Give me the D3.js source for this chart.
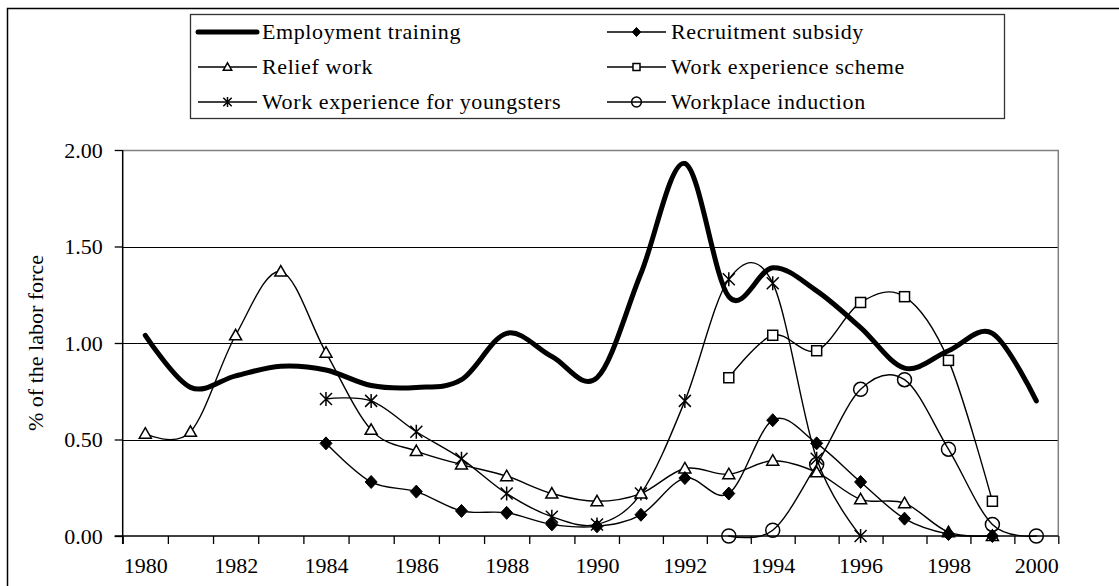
<!DOCTYPE html>
<html>
<head>
<meta charset="utf-8">
<script src="https://cdn.jsdelivr.net/npm/d3@7"></script>
<style>
  body { margin: 0; background: #fff; }
  svg text { font-family: "Liberation Serif", "Times New Roman", serif; fill: #000; }
</style>
</head>
<body>
<svg id="chart" width="1119" height="586"></svg>
<script>
const years = [1980, 1981, 1982, 1983, 1984, 1985, 1986, 1987, 1988, 1989, 1990,
               1991, 1992, 1993, 1994, 1995, 1996, 1997, 1998, 1999, 2000];
const yearLabels = [1980, 1982, 1984, 1986, 1988, 1990, 1992, 1994, 1996, 1998, 2000];
const yTicks = [0, 0.5, 1, 1.5, 2];

// % of the labor force, null = no programme that year
const employmentTraining = [1.04, 0.77, 0.83, 0.88, 0.86, 0.78, 0.77, 0.81, 1.05, 0.93, 0.82,
                            1.36, 1.93, 1.24, 1.39, 1.27, 1.08, 0.87, 0.96, 1.05, 0.70];
const recruitmentSubsidy = [null, null, null, null, 0.48, 0.28, 0.23, 0.13, 0.12, 0.06, 0.05,
                            0.11, 0.30, 0.22, 0.60, 0.48, 0.28, 0.09, 0.01, 0.00, null];
const reliefWork = [0.53, 0.54, 1.04, 1.37, 0.95, 0.55, 0.44, 0.37, 0.31, 0.22, 0.18,
                    0.22, 0.35, 0.32, 0.39, 0.33, 0.19, 0.17, 0.02, 0.00, null];
const workExperienceScheme = [null, null, null, null, null, null, null, null, null, null, null,
                              null, null, 0.82, 1.04, 0.96, 1.21, 1.24, 0.91, 0.18, null];
const workExperienceYoungsters = [null, null, null, null, 0.71, 0.70, 0.54, 0.40, 0.22, 0.10, 0.06,
                                  0.22, 0.70, 1.33, 1.31, 0.40, 0.00, null, null, null, null];
const workplaceInduction = [null, null, null, null, null, null, null, null, null, null, null,
                            null, null, 0.00, 0.03, 0.37, 0.76, 0.81, 0.45, 0.06, 0.00];

const series = [
  { name: 'Employment training', values: employmentTraining, marker: null, width: 5 },
  { name: 'Recruitment subsidy', values: recruitmentSubsidy, marker: 'diamond', width: 1.4 },
  { name: 'Relief work', values: reliefWork, marker: 'triangle', width: 1.4 },
  { name: 'Work experience scheme', values: workExperienceScheme, marker: 'square', width: 1.4 },
  { name: 'Work experience for youngsters', values: workExperienceYoungsters, marker: 'star', width: 1.4 },
  { name: 'Workplace induction', values: workplaceInduction, marker: 'circle', width: 1.4 }
];

const plot = { left: 122.7, right: 1058.3, top: 150, bottom: 536 };

const svg = d3.select('#chart');

// outer frame
svg.append('path')
  .attr('d', 'M7.5,586 V8.5 H1119')
  .attr('fill', 'none').attr('stroke', '#000').attr('stroke-width', 1.5);

// category axis: the scan is slightly uneven, so the centre year is pinned
const x = d3.scaleLinear()
  .domain([1979.5, 1990, 2000.5])
  .range([plot.left, 597, plot.right]);
const y = d3.scaleLinear().domain([0, 2]).range([plot.bottom, plot.top]);

// gridlines
svg.append('g').selectAll('line')
  .data(yTicks.filter(d => d > 0 && d < 2))
  .join('line')
  .attr('x1', plot.left).attr('x2', plot.right)
  .attr('y1', d => Math.round(y(d)) + 0.5).attr('y2', d => Math.round(y(d)) + 0.5)
  .attr('stroke', '#000').attr('stroke-width', 1);

// plot border (top/right grey)
svg.append('path')
  .attr('d', `M${plot.left},${plot.top + 0.5} H${plot.right} V${plot.bottom}`)
  .attr('fill', 'none').attr('stroke', '#808080').attr('stroke-width', 1.5);

// y axis
const yAxisG = svg.append('g')
  .attr('transform', `translate(${plot.left},0)`)
  .call(d3.axisLeft(y).tickValues(yTicks).tickSize(8).tickPadding(12)
    .tickFormat(d3.format('.2f')));
yAxisG.selectAll('line').attr('stroke', '#000').attr('stroke-width', 1.3);
yAxisG.select('.domain').attr('stroke', '#000').attr('stroke-width', 1.5)
  .attr('d', `M0,${plot.top}V${plot.bottom + 8}`);
yAxisG.selectAll('text').style('font-size', '22px').attr('font-family', null);

// x axis ticks between categories
const halfYears = years.map(d => d - 0.5).concat([2000.5]);
const xAxisG = svg.append('g')
  .attr('transform', `translate(0,${plot.bottom})`)
  .call(d3.axisBottom(x).tickValues(halfYears).tickSize(8).tickFormat(''));
xAxisG.selectAll('line').attr('stroke', '#000').attr('stroke-width', 1.3);
xAxisG.select('.domain').attr('stroke', '#000').attr('stroke-width', 1.5)
  .attr('d', `M${plot.left - 8},0H${plot.right}`);

// x labels on every other year
const xLabelG = svg.append('g')
  .attr('transform', `translate(0,${plot.bottom})`)
  .call(d3.axisBottom(x).tickValues(yearLabels).tickSize(0).tickPadding(21)
    .tickFormat(d3.format('d')));
xLabelG.select('.domain').remove();
xLabelG.selectAll('text').style('font-size', '22px').attr('font-family', null);

// y title
svg.append('text')
  .attr('transform', `translate(43,${(plot.top + plot.bottom) / 2}) rotate(-90)`)
  .attr('text-anchor', 'middle')
  .style('font-size', '22px')
  .text('% of the labor force');

// markers
function drawMarker(g, type, s) {
  if (type === 'diamond') {
    g.append('path').attr('d', `M0,${-6.5 * s}L${6 * s},0L0,${6.5 * s}L${-6 * s},0Z`)
      .attr('fill', '#000').attr('stroke', '#000').attr('stroke-width', 1);
  } else if (type === 'triangle') {
    g.append('path').attr('d', `M0,${-6 * s}L${6 * s},${4.5 * s}L${-6 * s},${4.5 * s}Z`)
      .attr('fill', '#fff').attr('stroke', '#000').attr('stroke-width', 1.5);
  } else if (type === 'square') {
    g.append('rect').attr('x', -5 * s).attr('y', -5 * s).attr('width', 10 * s).attr('height', 10 * s)
      .attr('fill', '#fff').attr('stroke', '#000').attr('stroke-width', 1.5);
  } else if (type === 'star') {
    g.append('path')
      .attr('d', `M${-6 * s},${-6 * s}L${6 * s},${6 * s}M${-6 * s},${6 * s}L${6 * s},${-6 * s}M0,${-7 * s}V${7 * s}`)
      .attr('fill', 'none').attr('stroke', '#000').attr('stroke-width', 1.5);
  } else if (type === 'circle') {
    g.append('circle').attr('r', 7 * s)
      .attr('fill', 'none').attr('stroke', '#000').attr('stroke-width', 1.5);
  }
}

const line = d3.line()
  .defined(d => d.v !== null)
  .x(d => x(d.year))
  .y(d => y(d.v))
  .curve(d3.curveCatmullRom.alpha(0));

const linesG = svg.append('g');
series.slice().reverse().forEach(s => {
  const pts = years.map((year, i) => ({ year, v: s.values[i] }));
  linesG.append('path')
    .datum(pts)
    .attr('d', line)
    .attr('fill', 'none')
    .attr('stroke', '#000')
    .attr('stroke-width', s.width)
    .attr('stroke-linejoin', 'round')
    .attr('stroke-linecap', 'round');
  if (s.marker) {
    pts.filter(d => d.v !== null).forEach(d => {
      const mg = linesG.append('g').attr('transform', `translate(${x(d.year)},${y(d.v)})`);
      drawMarker(mg, s.marker, 1);
    });
  }
});

// legend
const legend = svg.append('g');
legend.append('rect')
  .attr('x', 190.5).attr('y', 14.5).attr('width', 814).attr('height', 104)
  .attr('fill', '#fff').attr('stroke', '#333').attr('stroke-width', 1.3);

const legendCols = [198, 607];
const legendRows = [32, 67, 102];
series.forEach((s, i) => {
  const cx = legendCols[i % 2];
  const cy = legendRows[Math.floor(i / 2)];
  const g = legend.append('g').attr('transform', `translate(${cx},${cy})`);
  g.append('line').attr('x1', 0).attr('x2', 59).attr('y1', 0).attr('y2', 0)
    .attr('stroke', '#000').attr('stroke-width', s.width)
    .attr('stroke-linecap', s.marker ? 'butt' : 'round');
  if (s.marker) {
    const mg = g.append('g').attr('transform', 'translate(29.5,0)');
    drawMarker(mg, s.marker, 0.7);
  }
  g.append('text')
    .attr('x', 64).attr('y', 7)
    .style('font-size', '22px')
    .style('letter-spacing', '0.6px')
    .text(s.name);
});
</script>
</body>
</html>
